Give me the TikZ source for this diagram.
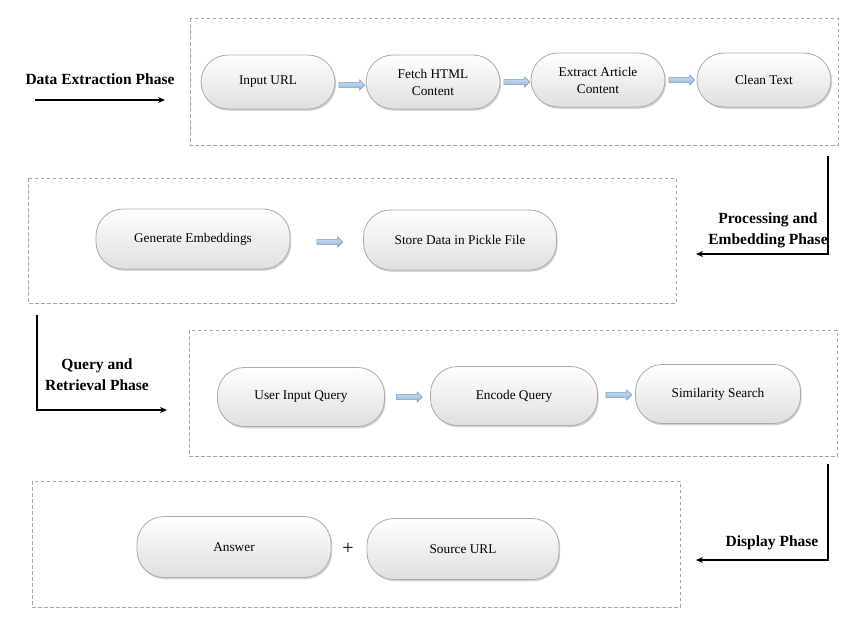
\documentclass[tikz,border=0pt]{standalone}
\usepackage{fontspec}
\setmainfont{Liberation Serif}
\usetikzlibrary{shapes.arrows,shadows,arrows.meta,calc}
\definecolor{pillline}{RGB}{170,170,170}
\definecolor{arrowfill}{RGB}{205,225,242}
\definecolor{arrowline}{RGB}{120,158,205}
\tikzset{
  phasebox/.style={draw=gray!70, dash pattern=on 3.5pt off 2.5pt, line width=0.7pt},
  pill/.style={draw=pillline, line width=0.8pt, rounded corners=27pt,
    top color=white, bottom color=gray!25, align=center,
    font=\fontsize{13.3}{17}\selectfont,
    drop shadow={shadow xshift=1.2pt, shadow yshift=-1.8pt, opacity=0.35, fill=gray}},
  blockarrow/.style={single arrow, draw=arrowline, line width=0.6pt,
    top color=arrowfill, bottom color=arrowline!80, minimum height=26pt,
    minimum width=10pt, single arrow head extend=2.5pt, inner xsep=0pt, inner ysep=2.3pt,
    text height=0pt, text depth=0pt},
  phaselabel/.style={font=\fontsize{15.5}{21}\selectfont\bfseries, align=center},
  phaseline/.style={line width=1.4pt, -{Stealth[length=7pt,width=6pt]}},
}
\begin{document}
\begin{tikzpicture}[x=1pt,y=-1pt]
\useasboundingbox (0,0) rectangle (853,622);
% boxes
\draw[phasebox] (190,18) rectangle (838,145);
\draw[phasebox] (28,178) rectangle (676,303);
\draw[phasebox] (189,330) rectangle (837,456);
\draw[phasebox] (32,481) rectangle (680,607);
% row 1
\node[pill, minimum width=134pt, minimum height=54pt] (url) at (268,82) {Input URL};
\node[pill, minimum width=134pt, minimum height=54pt] (fetch) at (433,82) {Fetch HTML\\Content};
\node[pill, minimum width=134pt, minimum height=54pt] (extract) at (598,80) {Extract Article\\Content};
\node[pill, minimum width=134pt, minimum height=54pt] (clean) at (764,80) {Clean Text};
\node[blockarrow] (a1) at (350.5,85) {};
\node[blockarrow] (a2) at (515.5,82) {};
\node[blockarrow] (a3) at (680.5,80) {};
% row 2
\node[pill, minimum width=194pt, minimum height=60pt] (gen) at (193,239) {Generate Embeddings};
\node[pill, minimum width=193pt, minimum height=60pt] (store) at (460,240) {Store Data in Pickle File};
\node[blockarrow] (a4) at (328.5,242) {};
% row 3
\node[pill, minimum width=167pt, minimum height=59pt] (user) at (301,397) {User Input Query};
\node[pill, minimum width=167pt, minimum height=59pt] (enc) at (514,396) {Encode Query};
\node[pill, minimum width=165pt, minimum height=59pt] (sim) at (718,394) {Similarity Search};
\node[blockarrow] (a5) at (408,397) {};
\node[blockarrow] (a6) at (617.5,395) {};
% row 4
\node[pill, minimum width=194pt, minimum height=61pt] (ans) at (234,547) {Answer};
\node[pill, minimum width=192pt, minimum height=61pt] (src) at (463,549) {Source URL};
\node[font=\fontsize{20}{22}\selectfont] (plus) at (348,549) {+};
% phase connectors
\node[phaselabel] (l1) at (100,79) {Data Extraction Phase};
\coordinate (p1s) at (35,100);
\coordinate (p1e) at (165,100);
\draw[phaseline] (p1s) -- (p1e);

\node[phaselabel] (l2) at (768,230) {Processing and\\Embedding Phase};
\coordinate (p2s) at (828,156);
\coordinate (p2c) at (828,254);
\coordinate (p2e) at (696,254);
\draw[phaseline] (p2s) -- (p2c) -- (p2e);

\node[phaselabel] (l3) at (97,375) {Query and\\Retrieval Phase};
\coordinate (p3s) at (37,315);
\coordinate (p3c) at (37,410);
\coordinate (p3e) at (167,410);
\draw[phaseline] (p3s) -- (p3c) -- (p3e);

\node[phaselabel] (l4) at (772,543) {Display Phase};
\coordinate (p4s) at (828,464);
\coordinate (p4c) at (828,560);
\coordinate (p4e) at (696,560);
\draw[phaseline] (p4s) -- (p4c) -- (p4e);
\end{tikzpicture}
\end{document}
